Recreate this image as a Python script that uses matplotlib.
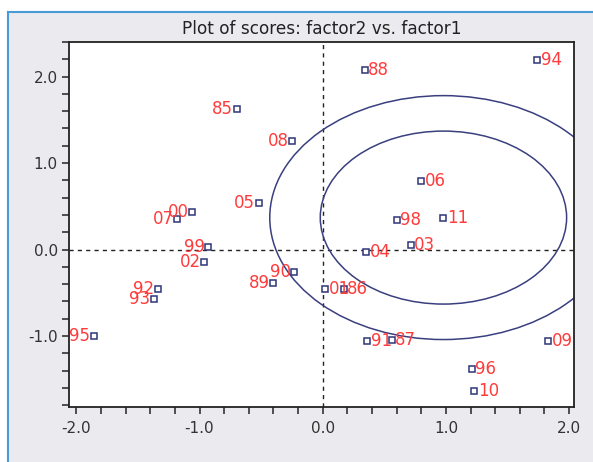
import matplotlib
matplotlib.use("Agg")
import matplotlib.pyplot as plt
from matplotlib.patches import Ellipse, Rectangle
from matplotlib.lines import Line2D
from matplotlib.ticker import MultipleLocator, FormatStrFormatter

plt.rcParams['font.family'] = ['DejaVu Sans']
plt.rcParams['axes.unicode_minus'] = False

labels = ["85", "08", "05", "00", "07", "99", "02", "92", "93", "95", "89", "90",
          "88", "94", "06", "98", "11", "04", "03", "01", "86", "91", "87", "09", "96", "10"]
factor1 = [-0.70, -0.25, -0.52, -1.06, -1.18, -0.93, -0.96, -1.34, -1.37, -1.86, -0.40, -0.23,
           0.34, 1.74, 0.80, 0.60, 0.98, 0.355, 0.715, 0.02, 0.17, 0.36, 0.56, 1.83, 1.21, 1.23]
factor2 = [1.63, 1.25, 0.54, 0.43, 0.35, 0.03, -0.14, -0.46, -0.57, -1.00, -0.39, -0.26,
           2.08, 2.19, 0.79, 0.34, 0.36, -0.03, 0.05, -0.45, -0.45, -1.06, -1.05, -1.06, -1.38, -1.63]
label_side = ["L"] * 12 + ["R"] * 14

ellipse_center = (0.98, 0.37)
ellipse_radii = [1.0, 1.41]

W, H = 593, 462
fig = plt.figure(figsize=(W / 100, H / 100), dpi=100)
fig.patch.set_facecolor("white")

# gray panel with blue border on left/top
bx, by = 8 / W, 12 / H
fig.patches.append(Rectangle((bx, 0), 1 - bx, 1 - by, transform=fig.transFigure,
                             facecolor="#ebebef", edgecolor="none", zorder=-10))
fig.lines.append(Line2D([bx, bx], [0, 1 - by], transform=fig.transFigure, color="#4a9ad8", lw=1.5, zorder=-5))
fig.lines.append(Line2D([bx, 1], [1 - by, 1 - by], transform=fig.transFigure, color="#4a9ad8", lw=1.5, zorder=-5))

ax = fig.add_axes([69 / W, 1 - 407 / H, (574 - 69) / W, (407 - 42) / H])
ax.set_zorder(5)
ax.set_facecolor("white")
ax.set_xlim(-2.06, 2.04)
ax.set_ylim(-1.82, 2.40)

for s in ax.spines.values():
    s.set_color("#222222")
    s.set_linewidth(1.3)

ax.xaxis.set_major_locator(MultipleLocator(1.0))
ax.xaxis.set_minor_locator(MultipleLocator(0.2))
ax.yaxis.set_major_locator(MultipleLocator(1.0))
ax.yaxis.set_minor_locator(MultipleLocator(0.2))
ax.xaxis.set_major_formatter(FormatStrFormatter("%.1f"))
ax.yaxis.set_major_formatter(FormatStrFormatter("%.1f"))
ax.tick_params(which="both", direction="out", length=5, width=1.2, color="#333333")
ax.tick_params(which="major", labelsize=11, labelcolor="#333333")
ax.tick_params(axis="x", which="major", pad=5)
ax.tick_params(axis="y", which="major", pad=3)

ax.axhline(0, color="#222222", lw=1, ls=(0, (3, 3)), zorder=1)
ax.axvline(0, color="#222222", lw=1, ls=(0, (3, 3)), zorder=1)

for r in ellipse_radii:
    ax.add_patch(Ellipse(ellipse_center, 2 * r, 2 * r, fill=False, edgecolor="#3a3f7f", lw=1.1, zorder=2))

ax.plot(factor1, factor2, ls="none", marker="s", markersize=4.3, markerfacecolor="white",
        markeredgecolor="#2e3579", markeredgewidth=1.1, zorder=3)

for lab, x, y, side in zip(labels, factor1, factor2, label_side):
    if side == "R":
        ax.annotate(lab, (x, y), xytext=(2.5, 0), textcoords="offset points", ha="left", va="center",
                    color="#ff3b3b", fontsize=12, zorder=4)
    else:
        ax.annotate(lab, (x, y), xytext=(-2.5, 0), textcoords="offset points", ha="right", va="center",
                    color="#ff3b3b", fontsize=12, zorder=4)

fig.text(322 / W, 1 - 29 / H, "Plot of scores: factor2 vs. factor1", ha="center", va="center",
         fontsize=12.2, color="#222222")

fig.savefig("out.png", dpi=100, facecolor=fig.get_facecolor())
